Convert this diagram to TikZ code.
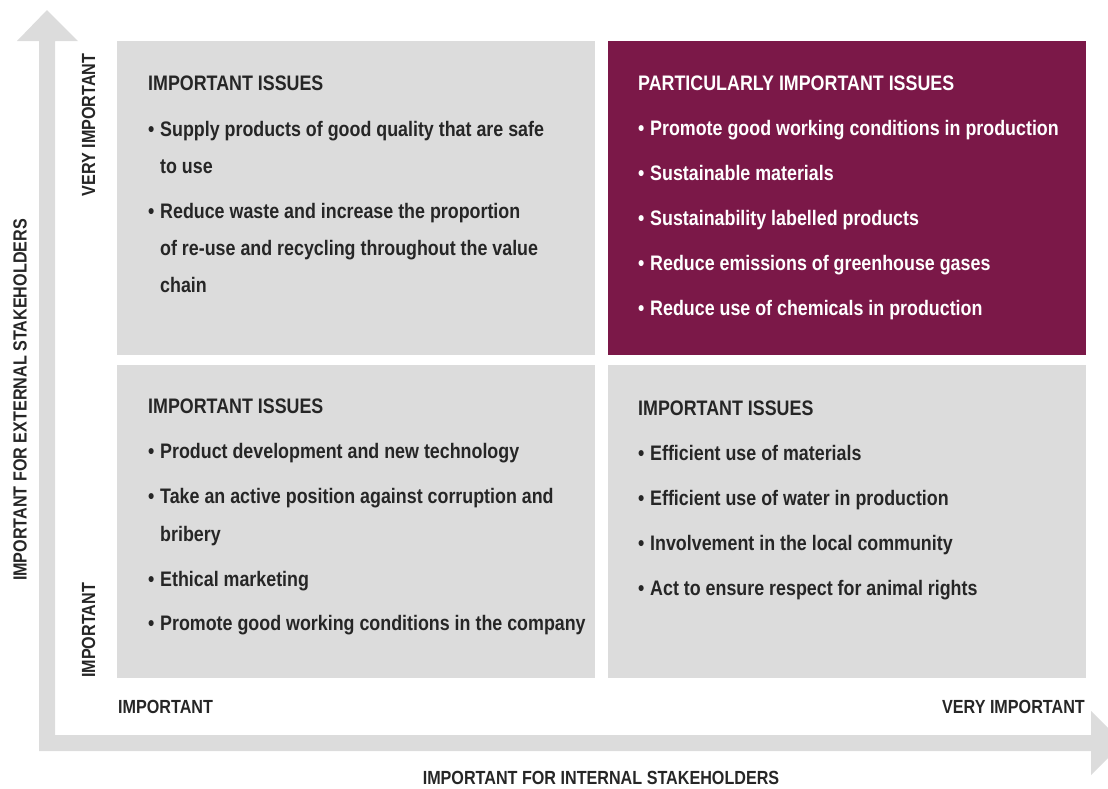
\documentclass[tikz,border=0pt]{standalone}
\usepackage{fontspec}
\setmainfont[FakeStretch=0.85]{Liberation Sans}

\definecolor{axisgray}{RGB}{220,220,220}
\definecolor{boxgray}{RGB}{220,220,220}
\definecolor{wine}{RGB}{123,24,72}

\newcommand{\bul}{\makebox[12pt][l]{\textbullet}}
\newcommand{\cont}{\hspace*{12pt}}

\begin{document}
\begin{tikzpicture}[x=1pt, y=-1pt,
    box/.style={fill=boxgray},
    txt/.style={anchor=base west, inner sep=0pt, font=\fontsize{21}{25}\selectfont\bfseries, text=black!85},
    wtxt/.style={txt, text=white},
    axlabel/.style={inner sep=0pt, font=\fontsize{19}{23}\selectfont\bfseries, text=black!85}]
    \clip (0,0) rectangle (1108,788);

    % the two axes as one bent arrow
    \fill[axisgray] (47,10)--(78,41)--(55,41)--(55,735)--(1091,735)--(1091,711)--(1123,743)
        --(1091,775)--(1091,751)--(39,751)--(39,41)--(17,41)--cycle;

    % quadrants
    \fill[box] (117,41) rectangle (595,355);
    \fill[wine] (608,41) rectangle (1086,355);
    \fill[box] (117,365) rectangle (595,678);
    \fill[box] (608,365) rectangle (1086,678);

    % axis labels
    \node[axlabel, rotate=90] (yveryimp) at (88.5,125){VERY IMPORTANT};
    \node[axlabel, rotate=90] (yimp) at (88.5,630.5){IMPORTANT};
    \node[axlabel, rotate=90] (ytitle) at (20,400){IMPORTANT FOR EXTERNAL STAKEHOLDERS};
    \node[axlabel, anchor=base west] (ximp) at (118,713){IMPORTANT};
    \node[axlabel, anchor=base east] (xveryimp) at (1085,713){VERY IMPORTANT};
    \node[axlabel, anchor=base] (xtitle) at (601,784){IMPORTANT FOR INTERNAL STAKEHOLDERS};

    % top left
    \node[txt] (tl0) at (148,90){IMPORTANT ISSUES};
    \node[txt] (tl1) at (148,136){\bul Supply products of good quality that are safe};
    \node[txt] (tl2) at (148,173){\cont to use};
    \node[txt] (tl3) at (148,218){\bul Reduce waste and increase the proportion};
    \node[txt] (tl4) at (148,255){\cont of re-use and recycling throughout the value};
    \node[txt] (tl5) at (148,292){\cont chain};

    % top right
    \node[wtxt] (tr0) at (638,90){PARTICULARLY IMPORTANT ISSUES};
    \node[wtxt] (tr1) at (638,135){\bul Promote good working conditions in production};
    \node[wtxt] (tr2) at (638,180){\bul Sustainable materials};
    \node[wtxt] (tr3) at (638,225){\bul Sustainability labelled products};
    \node[wtxt] (tr4) at (638,270){\bul Reduce emissions of greenhouse gases};
    \node[wtxt] (tr5) at (638,315){\bul Reduce use of chemicals in production};

    % bottom left
    \node[txt] (bl0) at (148,413){IMPORTANT ISSUES};
    \node[txt] (bl1) at (148,458){\bul Product development and new technology};
    \node[txt] (bl2) at (148,503){\bul Take an active position against corruption and};
    \node[txt] (bl3) at (148,541){\cont bribery};
    \node[txt] (bl4) at (148,586){\bul Ethical marketing};
    \node[txt] (bl5) at (148,630){\bul Promote good working conditions in the company};

    % bottom right
    \node[txt] (br0) at (638,415){IMPORTANT ISSUES};
    \node[txt] (br1) at (638,460){\bul Efficient use of materials};
    \node[txt] (br2) at (638,505){\bul Efficient use of water in production};
    \node[txt] (br3) at (638,550){\bul Involvement in the local community};
    \node[txt] (br4) at (638,595){\bul Act to ensure respect for animal rights};
\end{tikzpicture}
\end{document}
